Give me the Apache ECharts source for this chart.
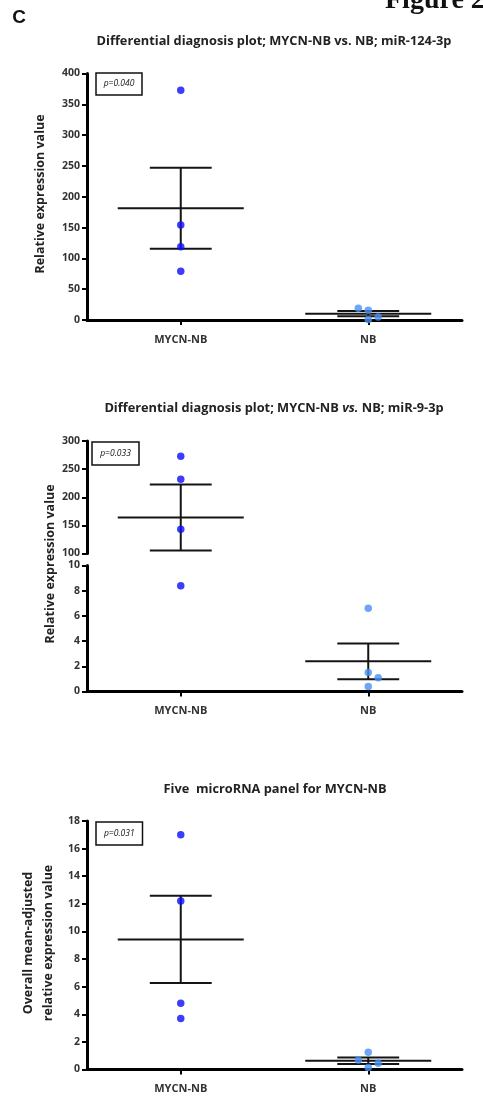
<!DOCTYPE html>
<html>
<head>
<meta charset="utf-8">
<script src="https://cdn.jsdelivr.net/npm/echarts@6/dist/echarts.min.js"></script>
<style>
  html, body { margin: 0; padding: 0; background: #fff; }
  #chart { width: 483px; height: 1114px; }
</style>
</head>
<body>
<div id="chart"></div>
<script>
// groups on the x axis
const categories = ['MYCN-NB', 'NB']

// miR-124-3p
const mir124Mycn = [373, 154, 119, 79]
const mir124Nb = [19, 16, 5, 1]
// miR-9-3p (broken y axis)
const mir9Mycn = [273, 232, 143, 8.4]
const mir9Nb = [6.6, 1.5, 1.1, 0.4]
// five microRNA panel
const panelMycn = [17, 12.2, 4.8, 3.7]
const panelNb = [1.25, 0.69, 0.45, 0.15]

// horizontal scatter of the dots inside a group (category units)
const mycnJitter = [0, 0, 0, 0]
const mir124NbJitter = [-0.053, 0, 0.053, 0]
const mir9NbJitter = [0, 0, 0.053, 0]
const panelNbJitter = [0, -0.053, 0.053, 0]

// y ticks: min, max, step
const mir124Ticks = [0, 400, 50]
const mir9TopTicks = [100, 300, 50]
const mir9BottomTicks = [0, 10, 2]
const panelTicks = [0, 18, 2]

const pValues = ['p=0.040', 'p=0.033', 'p=0.031']

const font = '"Open Sans", "Liberation Sans", sans-serif'
const ink = '#141414'

function meanSem(values) {
  const n = values.length
  const m = values.reduce((a, b) => a + b, 0) / n
  const sd = Math.sqrt(values.reduce((a, v) => a + (v - m) * (v - m), 0) / (n - 1))
  return [m, sd / Math.sqrt(n)]
}

function points(values, cat, jitter) {
  return values.map((v, i) => [cat + 0.5 + jitter[i], v])
}

function errorBars(groups) {
  return groups.map((g, i) => {
    const ms = meanSem(g)
    return [i + 0.5, ms[0], ms[1]]
  })
}

// mean line + SEM whiskers
function renderErrorBar(params, api) {
  const x = api.value(0), m = api.value(1), s = api.value(2)
  const seg = (x1, y1, x2, y2, w) => {
    const a = api.coord([x1, y1])
    const b = api.coord([x2, y2])
    return {
      type: 'line',
      shape: { x1: a[0], y1: a[1], x2: b[0], y2: b[1] },
      style: { stroke: ink, lineWidth: w }
    }
  }
  return {
    type: 'group',
    children: [
      seg(x - 0.336, m, x + 0.336, m, 2),
      seg(x, m - s, x, m + s, 2),
      seg(x - 0.165, m + s, x + 0.165, m + s, 2),
      seg(x - 0.165, m - s, x + 0.165, m - s, 2)
    ]
  }
}

const grids = [
  { left: 87, top: 73.5, width: 375, height: 246.5 },
  { left: 87, top: 441, width: 375, height: 112.5 },
  { left: 87, top: 565.5, width: 375, height: 126 },
  { left: 87, top: 821, width: 375, height: 248.5 }
]

function xAxis(gridIndex, show) {
  return {
    type: 'value', gridIndex, min: 0, max: 2, show,
    splitLine: { show: false },
    axisLine: { show: true, lineStyle: { color: '#000', width: 3 } },
    axisTick: { show: true, customValues: [0.5, 1.5], length: 5, lineStyle: { color: '#000', width: 2 } },
    axisLabel: {
      customValues: [0.5, 1.5], margin: 14,
      formatter: v => categories[Math.round(v - 0.5)],
      fontFamily: font, fontSize: 11, fontWeight: 'bold', color: '#333'
    }
  }
}

function yAxis(gridIndex, ticks) {
  return {
    type: 'value', gridIndex, min: ticks[0], max: ticks[1], interval: ticks[2],
    splitLine: { show: false },
    axisLine: { show: true, lineStyle: { color: '#000', width: 3 } },
    axisTick: { show: true, length: 5, lineStyle: { color: '#000', width: 2 } },
    axisLabel: { margin: 7, fontFamily: font, fontSize: 10.5, fontWeight: 'bold', color: '#333' }
  }
}

function dots(idx, data, color) {
  return {
    type: 'scatter', xAxisIndex: idx, yAxisIndex: idx, data,
    symbolSize: 7.5, itemStyle: { color }, z: 5, clip: true, silent: true
  }
}

function bars(idx, data) {
  return {
    type: 'custom', xAxisIndex: idx, yAxisIndex: idx, data,
    renderItem: renderErrorBar, clip: true, z: 3, silent: true,
    encode: { x: 0, y: 1 }
  }
}

const dark = '#0d0dff'
const light = '#4a90f5'

const mir124Bars = errorBars([mir124Mycn, mir124Nb])
const mir9Bars = errorBars([mir9Mycn, mir9Nb])
const panelBars = errorBars([panelMycn, panelNb])

const series = [
  bars(0, mir124Bars),
  dots(0, points(mir124Mycn, 0, mycnJitter), dark),
  dots(0, points(mir124Nb, 1, mir124NbJitter), light),
  bars(1, mir9Bars),
  dots(1, points(mir9Mycn, 0, mycnJitter), dark),
  dots(1, points(mir9Nb, 1, mir9NbJitter), light),
  bars(2, mir9Bars),
  dots(2, points(mir9Mycn, 0, mycnJitter), dark),
  dots(2, points(mir9Nb, 1, mir9NbJitter), light),
  bars(3, panelBars),
  dots(3, points(panelMycn, 0, mycnJitter), dark),
  dots(3, points(panelNb, 1, panelNbJitter), light)
]

function label(text, x, y, size, extra) {
  return {
    type: 'text', x, y, z: 10,
    style: Object.assign({
      text, fontFamily: font, fontSize: size, fontWeight: 'bold', fill: '#222',
      align: 'center', verticalAlign: 'middle'
    }, extra || {})
  }
}

function pBox(text, x, y, w, h) {
  return [
    { type: 'rect', z: 10, shape: { x, y, width: w, height: h }, style: { fill: '#fff', stroke: '#111', lineWidth: 1.5 } },
    label(text, x + w / 2, y + h / 2, 8.5, { fontStyle: 'italic', fontWeight: 'normal', fill: '#111' })
  ]
}

const titleSize = 12.8
const graphics = [
  label('C', 19, 18, 19, { fontFamily: '"Liberation Sans", sans-serif', fill: '#111' }),
  label('Figure 2', 385, 15, 28, { fontFamily: '"Liberation Serif", serif', align: 'left', verticalAlign: 'bottom', fill: '#111' }),
  label('Differential diagnosis plot; MYCN-NB vs. NB; miR-124-3p', 274, 41, titleSize),
  label('{n|Differential diagnosis plot; MYCN-NB }{i|vs.}{n| NB; miR-9-3p}', 274, 408, titleSize, {
    rich: {
      n: { fontFamily: font, fontSize: titleSize, fontWeight: 'bold', fill: '#222' },
      i: { fontFamily: font, fontSize: titleSize, fontWeight: 'bold', fontStyle: 'italic', fill: '#222' }
    }
  }),
  label('Five  microRNA panel for MYCN-NB', 275, 789, titleSize),
  label('Relative expression value', 40, 194, 12.5),
  label('Relative expression value', 50, 564, 12.5),
  label('Overall mean-adjusted\nrelative expression value', 38, 943, 12.5, { lineHeight: 20 })
]
// rotate the y-axis titles
graphics[5].rotation = Math.PI / 2
graphics[6].rotation = Math.PI / 2
graphics[7].rotation = Math.PI / 2

const boxes = [].concat(
  pBox(pValues[0], 96, 73, 46, 22),
  pBox(pValues[1], 92, 442, 47, 23),
  pBox(pValues[2], 96, 822, 46.5, 23)
)

const chart = echarts.init(document.getElementById('chart'), null, { renderer: 'canvas' })
chart.setOption({
  animation: false,
  backgroundColor: '#fff',
  grid: grids,
  xAxis: [xAxis(0, true), xAxis(1, false), xAxis(2, true), xAxis(3, true)],
  yAxis: [yAxis(0, mir124Ticks), yAxis(1, mir9TopTicks), yAxis(2, mir9BottomTicks), yAxis(3, panelTicks)],
  series,
  graphic: { elements: graphics.concat(boxes) }
})
</script>
</body>
</html>
